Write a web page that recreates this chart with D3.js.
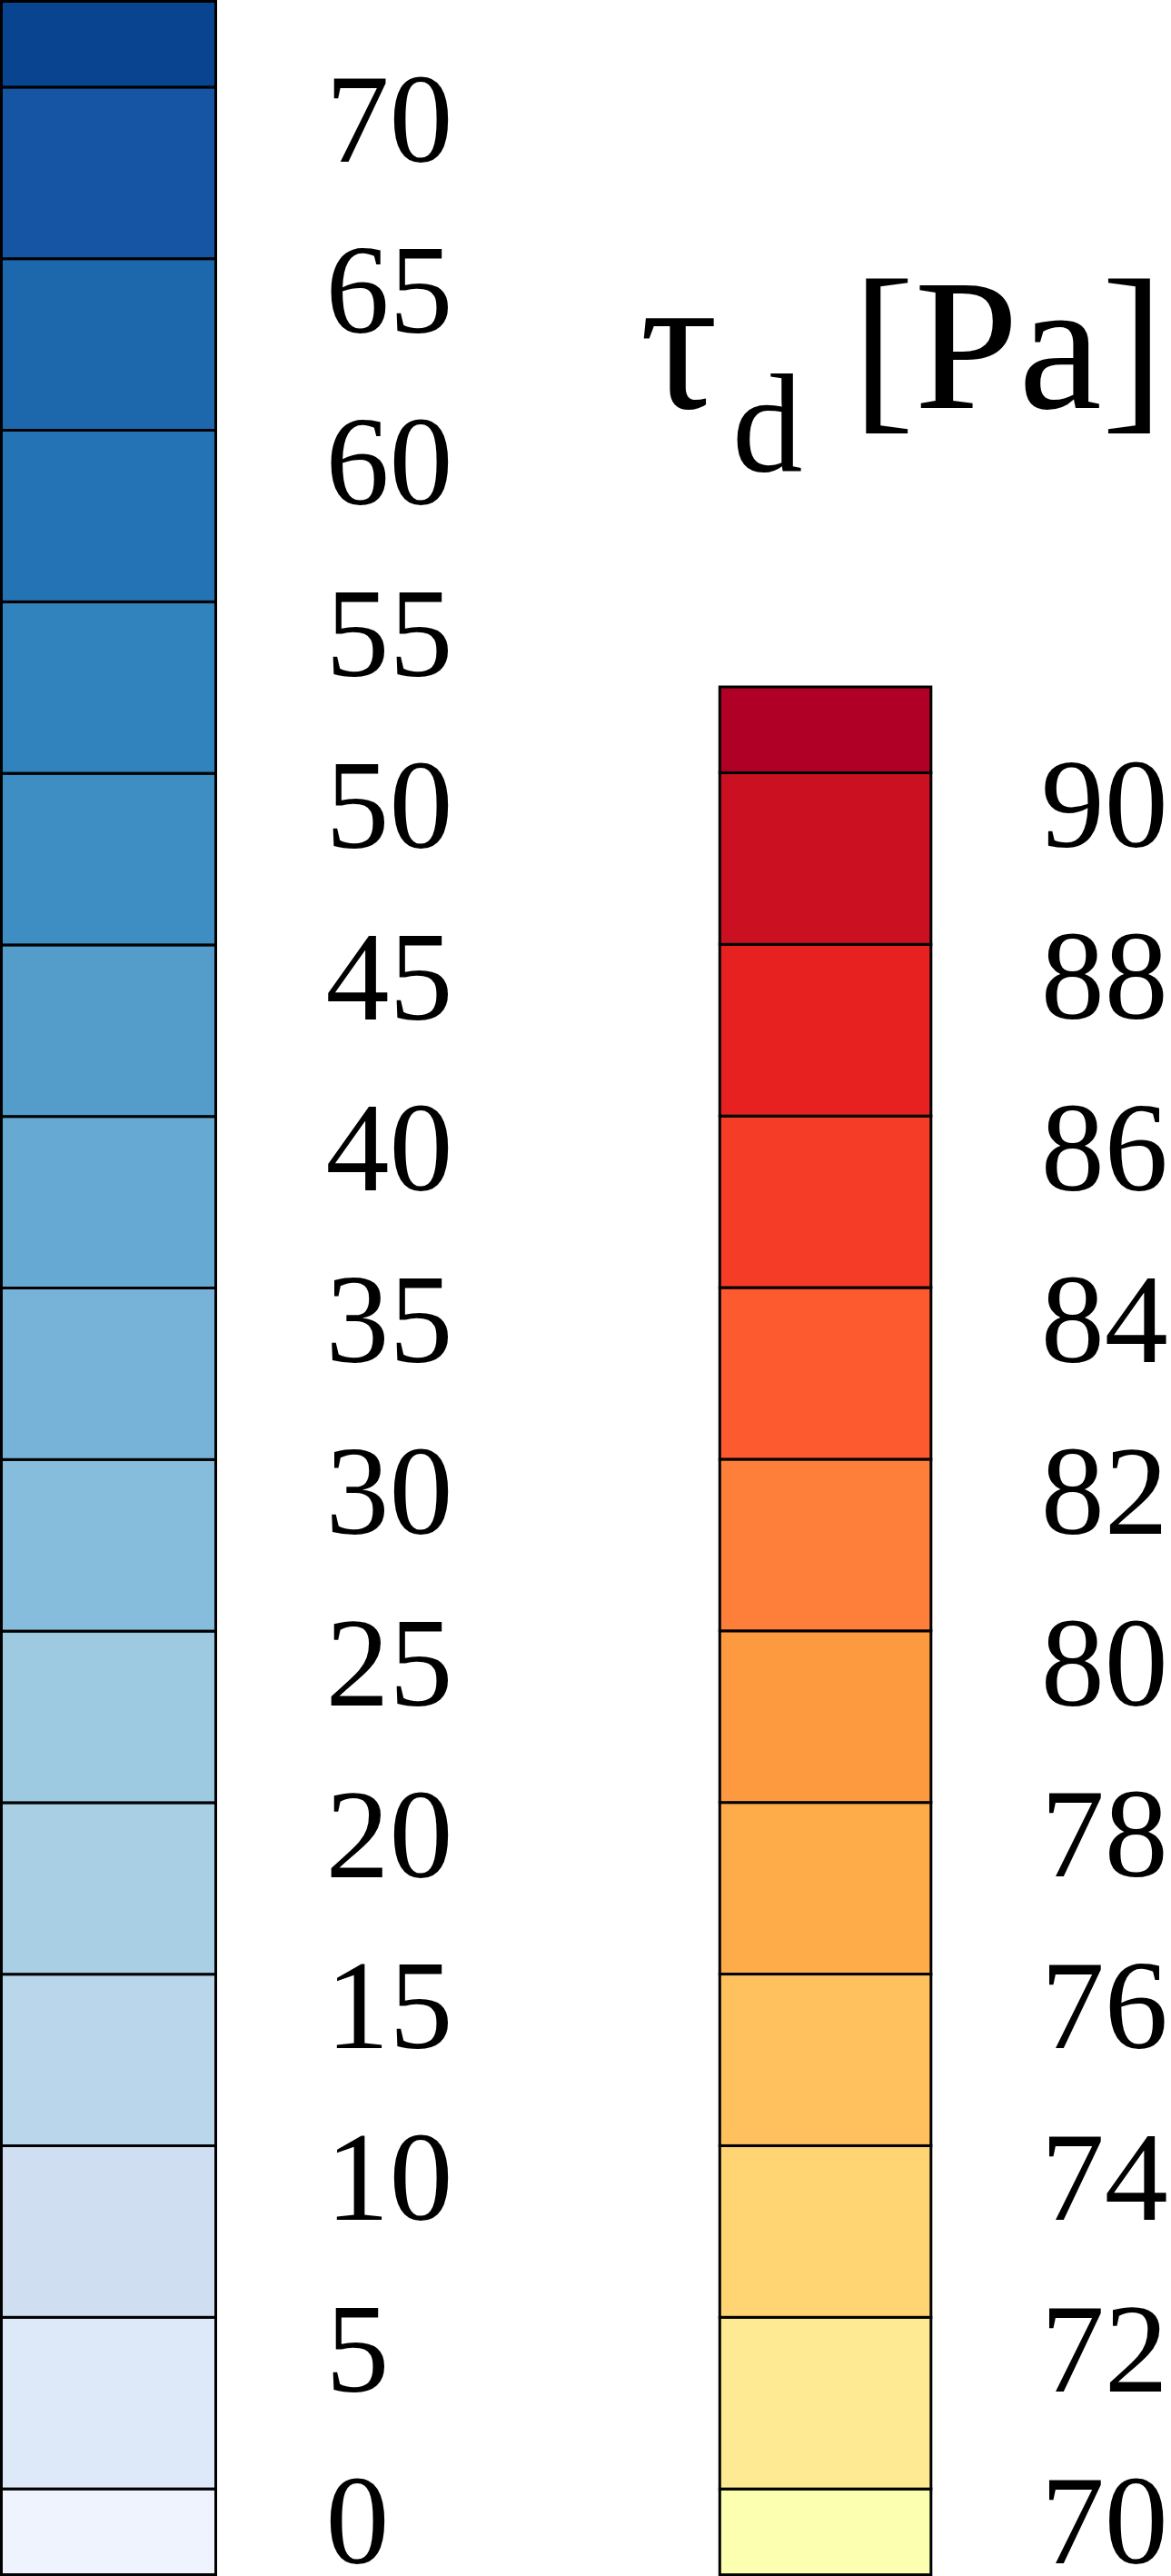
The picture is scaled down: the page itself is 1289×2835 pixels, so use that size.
<!DOCTYPE html>
<html>
<head>
<meta charset="utf-8">
<script src="https://cdn.jsdelivr.net/npm/d3@7"></script>
<style>
  html, body { margin: 0; padding: 0; background: #ffffff; }
  svg { display: block; }
  text { font-family: "Liberation Serif", "Times New Roman", serif; fill: #000; }
</style>
</head>
<body>
<svg id="chart" width="1289" height="2835"></svg>
<script>
// ---- data ----
const blueThresholds = [0, 5, 10, 15, 20, 25, 30, 35, 40, 45, 50, 55, 60, 65, 70];
const blueTickLabels = ["0", "5", "10", "15", "20", "25", "30", "35", "40", "45", "50", "55", "60", "65", "70"];
// colours of the bins, from lowest (< 0) to highest (> 70)
const blueColors = ["#eef3fd", "#dde9f8", "#cfdff1", "#bad6eb", "#a9cfe5", "#9dc9e1", "#86bcdc", "#77b2d8",
                    "#66a9d3", "#549dcb", "#3e8ec4", "#3183bd", "#2474b5", "#1d67ad", "#1555a3", "#08448f"];

const redThresholds = [70, 72, 74, 76, 78, 80, 82, 84, 86, 88, 90];
const redTickLabels = ["70", "72", "74", "76", "78", "80", "82", "84", "86", "88", "90"];
// colours of the bins, from lowest (< 70) to highest (> 90)
const redColors = ["#fcfeb0", "#feea92", "#fed572", "#fec15e", "#feab4a", "#fd9a40", "#fd7f39", "#fe5a30",
                   "#f53c27", "#e6211f", "#cb1022", "#b00026"];

const titleMain = "τ";
const titleSub = "d";
const titleUnit = "[Pa]";

// ---- drawing ----
const svg = d3.select("#chart");

function colorbar(opts) {
  const { thresholds, labels, colors, x0, x1, yBottom, yTop, labelPad } = opts;
  const step = thresholds[1] - thresholds[0];
  const lo = thresholds[0] - step / 2;
  const hi = thresholds[thresholds.length - 1] + step / 2;
  const y = d3.scaleLinear().domain([lo, hi]).range([yBottom, yTop]);
  const edges = [lo, ...thresholds, hi];
  const cells = d3.range(edges.length - 1).map(i => ({ a: edges[i], b: edges[i + 1], c: colors[i] }));

  const g = svg.append("g");
  g.selectAll("rect.cell")
    .data(cells)
    .join("rect")
    .attr("class", "cell")
    .attr("x", x0)
    .attr("width", x1 - x0)
    .attr("y", d => y(d.b))
    .attr("height", d => y(d.a) - y(d.b))
    .attr("fill", d => d.c)
    .attr("stroke", "#000")
    .attr("stroke-width", 3);

  const axis = d3.axisRight(y)
    .tickValues(thresholds)
    .tickFormat((d, i) => labels[i])
    .tickSize(0)
    .tickPadding(labelPad);

  const ag = svg.append("g")
    .attr("transform", `translate(${x1},0)`)
    .call(axis);
  ag.select(".domain").remove();
  ag.selectAll("text")
    .attr("font-family", '"Liberation Serif", "Times New Roman", serif')
    .attr("font-size", 140)
    .attr("fill", "#000")
    .attr("dy", "0.58em");
}

colorbar({
  thresholds: blueThresholds, labels: blueTickLabels, colors: blueColors,
  x0: 1.5, x1: 237.5, yBottom: 2833.5, yTop: 1.5, labelPad: 121
});

colorbar({
  thresholds: redThresholds, labels: redTickLabels, colors: redColors,
  x0: 792.3, x1: 1024.8, yBottom: 2833.6, yTop: 756, labelPad: 121
});

// title
const title = svg.append("text")
  .attr("font-family", '"Liberation Serif", "Times New Roman", serif')
  .attr("y", 449);
title.append("tspan").attr("x", 704).attr("font-size", 215).text(titleMain);
title.append("tspan").attr("x", 806).attr("dy", 69).attr("font-size", 155).text(titleSub);
title.append("tspan").attr("x", 938).attr("dy", -69).attr("font-size", 206).text(titleUnit);
</script>
</body>
</html>
